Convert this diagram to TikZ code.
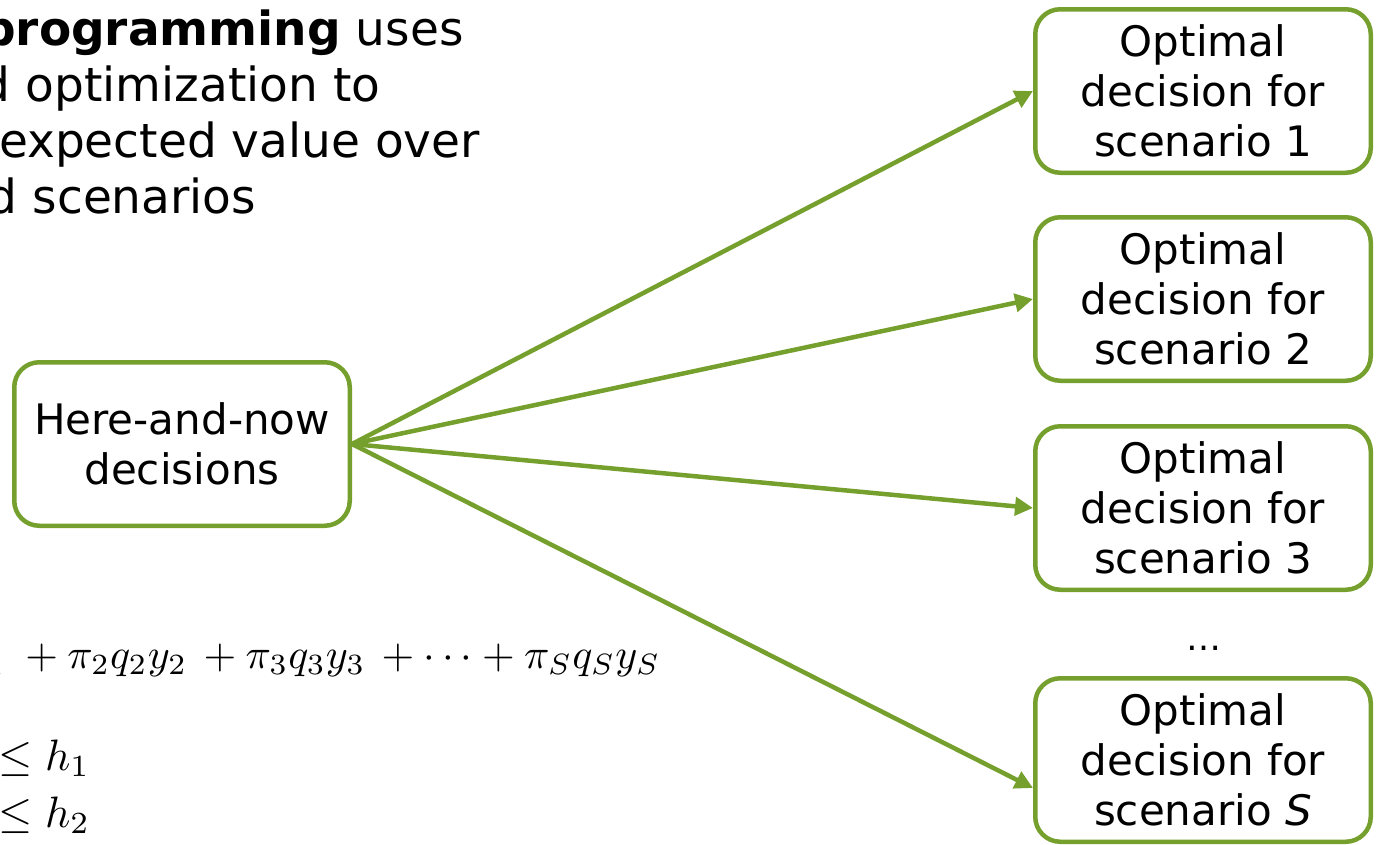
\documentclass[tikz,border=0pt]{standalone}
\usepackage{fontspec}
\setmainfont{DejaVu Sans}
\usetikzlibrary{arrows.meta,calc}
\definecolor{leaf}{RGB}{118,160,46}
\newcommand\boxfont{\fontsize{42}{50}\selectfont}
\newcommand\leadfont{\fontsize{47}{56}\selectfont}
% math is set at 10pt and enlarged, since the math fonts come in fixed sizes
\newcommand\bigeq[2][4.4]{\scalebox{#1}{\fontsize{10}{12}\selectfont #2}}
\tikzset{
  decbox/.style={draw=leaf, line width=4.5pt, rounded corners=25pt,
    minimum width=335.5pt, minimum height=163.5pt, align=center,
    inner sep=0pt, font=\boxfont},
  link/.style={draw=leaf, line width=4.5pt,
    -{Triangle[length=18pt,width=18pt]}},
  lead/.style={anchor=base west, inner sep=0pt, font=\leadfont},
  eq/.style={anchor=base west, inner sep=0pt},
}
\begin{document}
\begin{tikzpicture}[x=1pt,y=-1pt]
\useasboundingbox (0,0) rectangle (1381,844);
\clip (0,0) rectangle (1381,844);

% lead paragraph
\node[lead] (l1) at (-18,45)   {\textbf{programming} uses};
\node[lead] (l2) at (25.5,101) {\llap{d }optimization to};
\node[lead] (l3) at (-1,157)   {expected value over};
\node[lead] (l4) at (32.5,213) {\llap{d }scenarios};

% objective and constraints
\node[eq] (obj) at (5,668)
  {\bigeq[4.2]{\llap{$\pi_1q_1y_1$}\hspace{2.6pt}${}+\pi_2q_2y_2\,+\pi_3q_3y_3\,+\cdots+\pi_Sq_Sy_S$}};
\node[eq] (c1) at (-1.5,770) {\bigeq{$\le h_1$}};
\node[eq] (c2) at (-1.5,827) {\bigeq{$\le h_2$}};

% decision boxes
\node[decbox] (here) at (182,444)  {Here-and-now\\decisions};
\node[decbox] (s1)   at (1203,91)  {Optimal\\decision for\\scenario 1};
\node[decbox] (s2)   at (1203,299) {Optimal\\decision for\\scenario 2};
\node[decbox] (s3)   at (1203,508) {Optimal\\decision for\\scenario 3};
\node[decbox] (sS)   at (1203,760) {Optimal\\decision for\\scenario \textit{S}};
\node[inner sep=0pt, font=\fontsize{35}{40}\selectfont] (dots) at (1204,648) {…};

% connectors
\draw[link] (here.east) -- (s1.west);
\draw[link] (here.east) -- (s2.west);
\draw[link] (here.east) -- (s3.west);
\draw[link] (here.east) -- ($(sS.west)+(0,28)$);
\end{tikzpicture}
\end{document}
